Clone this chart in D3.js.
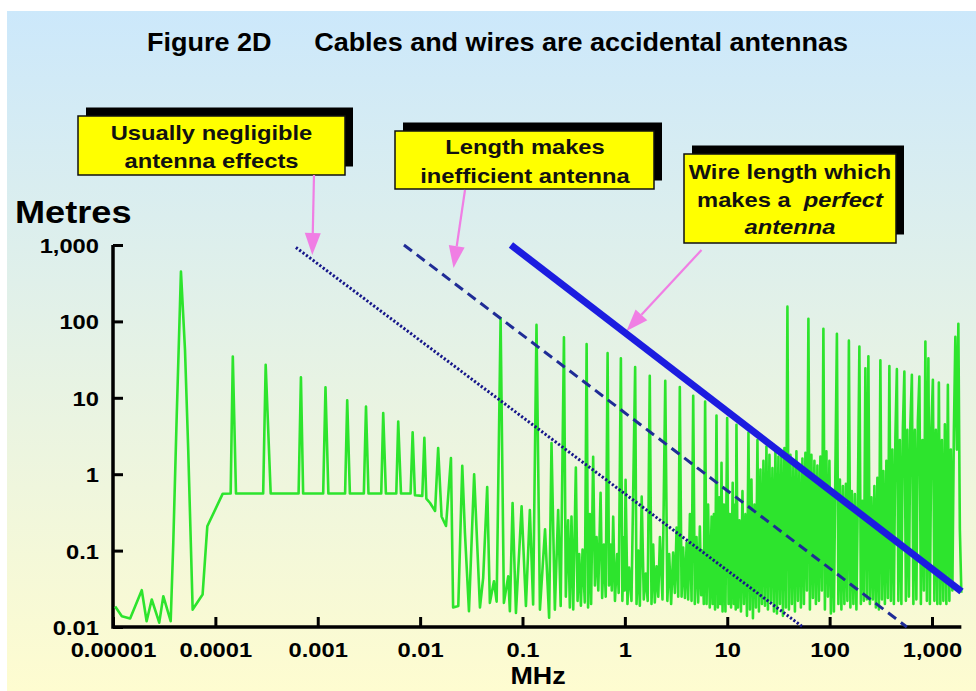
<!DOCTYPE html>
<html lang="en">
<head>
<meta charset="utf-8">
<title>Figure 2D - Cables and wires are accidental antennas</title>
<script src="https://d3js.org/d3.v7.min.js"></script>
<style>
  body { margin: 0; background: #fff; }
  text { font-family: "Liberation Sans", Arial, sans-serif; font-weight: bold; }
</style>
</head>
<body>
<div id="chart"></div>
<script>
// ---- data ----
var xTicks = [1e-5, 1e-4, 1e-3, 0.01, 0.1, 1, 10, 100, 1000];
var xTickLabels = ["0.00001", "0.0001", "0.001", "0.01", "0.1", "1", "10", "100", "1,000"];
var yTicks = [0.01, 0.1, 1, 10, 100, 1000];
var yTickLabels = ["0.01", "0.1", "1", "10", "100", "1,000"];

// measured resonance trace (MHz, metres), low band
var lowFreq = [
  1.05e-5, 1.22e-5, 1.47e-5, 1.91e-5, 2.13e-5, 2.39e-5, 2.83e-5, 3.10e-5, 3.66e-5, 3.88e-5,
  4.19e-5, 4.61e-5, 5.05e-5, 5.43e-5, 6.0e-5, 7.5e-5, 8.34e-5, 1.18e-4,
  1.41e-4, 1.48e-4, 1.59e-4, 2.93e-4, 3.10e-4, 3.47e-4, 6.5e-4, 6.85e-4, 7.2e-4,
  1.13e-3, 1.19e-3, 1.27e-3, 1.85e-3, 1.94e-3, 2.06e-3, 2.82e-3, 2.96e-3, 3.13e-3,
  4.17e-3, 4.36e-3, 4.63e-3, 5.85e-3, 6.11e-3, 6.5e-3, 8.07e-3, 8.45e-3, 8.9e-3,
  0.0105, 0.011, 0.0115, 0.0125, 0.014, 0.015, 0.0162, 0.0179, 0.020, 0.021, 0.0236,
  0.0258, 0.0274, 0.030, 0.0337, 0.0384, 0.0413, 0.0452, 0.048, 0.0526, 0.0559,
  0.0611, 0.0658, 0.0725, 0.0753, 0.080, 0.0863, 0.098, 0.108, 0.118, 0.127,
  0.137, 0.148, 0.166, 0.182, 0.192, 0.207, 0.223, 0.236
];
var lowMetres = [
  0.0185, 0.0138, 0.0129, 0.0303, 0.0119, 0.0229, 0.0114, 0.0253, 0.0119, 0.127,
  5.7, 448, 42.4, 2.09, 0.0169, 0.0266, 0.208, 0.556,
  0.56, 34.7, 0.56, 0.56, 27, 0.56, 0.56, 18.5, 0.56,
  0.56, 13.7, 0.56, 0.56, 9.3, 0.56, 0.56, 7.7, 0.56,
  0.56, 6.3, 0.56, 0.56, 4.9, 0.56, 0.56, 3.54, 0.53,
  0.52, 3.0, 0.48, 0.42, 0.33, 2.2, 0.28, 0.21, 1.63, 0.018, 0.0188,
  1.29, 0.17, 0.0161, 1.0, 0.018, 0.044, 0.68, 0.0207, 0.0397, 0.0215,
  110, 0.0207, 0.046, 0.0161, 0.42, 0.0153, 0.38, 0.0188, 0.34, 0.0197,
  90, 0.0169, 0.19, 0.0132, 2.56, 0.0169, 0.34, 0.0188
];

// mid band, 0.25 - 12 MHz
var midFreq = [
  0.254, 0.265, 0.279, 0.29, 0.301, 0.313, 0.332, 0.345, 0.358, 0.372, 0.386, 0.406,
  0.423, 0.437, 0.455, 0.468, 0.49, 0.51, 0.529, 0.55, 0.579, 0.60, 0.624, 0.65,
  0.678, 0.70, 0.725, 0.745, 0.769, 0.80, 0.841, 0.87,
  0.914, 0.945, 0.977, 0.995, 1.016, 1.06, 1.10, 1.16,
  1.26, 1.30, 1.35, 1.40, 1.46, 1.53, 1.60, 1.67,
  1.75, 1.82, 1.89, 1.96, 2.04, 2.12, 2.20, 2.33,
  2.48, 2.60, 2.71, 2.83, 2.96, 3.08, 3.20, 3.32,
  3.44, 3.58, 3.71, 3.86, 4.01, 4.15, 4.32, 4.48,
  4.65, 4.82, 5.01, 5.20, 5.40, 5.57, 5.73, 5.90,
  6.08, 6.28, 6.50, 6.75, 7.03, 7.20, 7.40, 7.60,
  7.85, 8.10, 8.34, 8.55, 8.79, 9.00, 9.27, 9.60,
  9.98, 10.3, 10.6, 10.9, 11.3, 11.6, 11.9, 12.1
];
var midMetres = [
  62, 0.025, 0.25, 0.018, 0.28, 0.017, 1.22, 0.022, 0.09, 0.019, 0.103, 0.021,
  50.4, 0.018, 0.3, 0.02, 1.69, 0.035, 0.15, 0.03, 0.573, 0.024, 0.12, 0.025,
  38.4, 0.035, 0.12, 0.03, 0.278, 0.022, 0.09, 0.028,
  33, 0.022, 0.15, 0.03, 0.847, 0.02, 0.06, 0.022,
  25.2, 0.02, 0.1, 0.019, 0.508, 0.023, 0.05, 0.022,
  19.4, 0.02, 0.12, 0.021, 0.0624, 0.025, 0.15, 0.023,
  16.7, 0.022, 0.09, 0.02, 0.094, 0.028, 0.2, 0.025,
  13.8, 0.025, 0.11, 0.024, 0.127, 0.023, 0.3, 0.022,
  10.6, 0.02, 0.15, 0.021, 0.206, 0.026, 0.1, 0.02,
  8.95, 0.02, 0.4, 0.018, 0.278, 0.02, 0.3, 0.017,
  5.87, 0.018, 0.5, 0.02, 1.41, 0.016, 0.4, 0.016,
  5.43, 0.02, 0.3, 0.018, 0.774, 0.02, 0.4, 0.017
];

// high band, 12 - 2000 MHz (dense)
var highFreq = [
  12.3, 12.72, 13.16, 13.61, 14.08, 14.56, 15.06, 15.58, 16.11, 16.66, 17.23, 17.82,
  18.43, 19.07, 19.72, 20.4, 21.1, 21.82, 22.57, 23.34, 24.14, 24.97, 25.83, 26.71,
  27.63, 28.58, 29.56, 30.57, 31.62, 32.7, 33.82, 34.98, 36.18, 37.42, 38.7, 40.03,
  41.4, 42.82, 44.29, 45.81, 47.38, 49.0, 50.68, 52.42, 54.22, 56.08, 58.0, 59.99,
  62.05, 64.18, 66.38, 68.66, 71.01, 73.45, 75.97, 78.57, 81.26, 84.05, 86.93, 89.91,
  93.0, 96.19, 99.49, 102.9, 106.4, 110.1, 113.9, 117.8, 121.8, 126.0, 130.3, 134.8,
  139.4, 144.2, 149.1, 154.2, 159.5, 165.0, 170.7, 176.5, 182.6, 188.8, 195.3, 202.0,
  208.9, 216.1, 223.5, 231.2, 239.1, 247.3, 255.8, 264.6, 273.6, 283.0, 292.7, 302.8,
  313.2, 323.9, 335.0, 346.5, 358.4, 370.7, 383.4, 396.6, 410.2, 424.3, 438.8, 453.9,
  469.4, 485.5, 502.2, 519.4, 537.2, 555.7, 574.7, 594.5, 614.9, 636.0, 657.8, 680.4,
  703.7, 727.9, 752.9, 778.7, 805.4, 833.1, 861.7, 891.2, 921.8, 953.4, 986.1, 1020,
  1055, 1091, 1128, 1167, 1207, 1249, 1291, 1336, 1381, 1429, 1478, 1528,
  1581, 1635, 1691, 1749, 1809, 1871, 1935
];
var highMetres = [
  4.44, 0.018, 0.25, 0.016, 0.6, 0.02, 0.3, 0.014, 3.5, 0.017, 0.85, 0.013,
  0.4, 0.018, 2.8, 0.016, 1.15, 0.02, 1.5, 0.019, 2.3, 0.017, 1.8, 0.022,
  1.2, 0.016, 2.1, 0.015, 1.7, 0.02, 1.8, 0.014, 2.2, 0.018, 156, 0.017,
  1.8, 0.02, 1.4, 0.016, 2.0, 0.022, 1.2, 0.018, 1.6, 0.02, 1.9, 0.03,
  108, 0.017, 1.8, 0.024, 1.5, 0.02, 1.3, 0.022, 1.7, 0.03, 80, 0.017,
  2.0, 0.025, 1.5, 0.015, 0.6, 0.016, 1.2, 69, 0.02, 0.85, 0.017, 0.7,
  0.02, 0.75, 0.022, 56, 0.018, 0.6, 0.02, 0.55, 0.017, 0.5, 47, 0.02,
  0.45, 0.022, 24.4, 0.023, 35, 0.02, 0.5, 0.023, 0.7, 0.018, 0.9, 0.017,
  31, 0.023, 1.1, 0.02, 1.5, 0.024, 26, 0.022, 2.1, 0.02, 3.0, 23.7,
  0.022, 2.8, 0.02, 4.0, 22, 0.022, 3.8, 0.025, 4.5, 20, 0.02, 3.8,
  0.023, 5.0, 19, 0.02, 2.8, 0.03, 54.5, 0.022, 33, 0.02, 4.0, 17.2,
  0.022, 3.8, 0.02, 15.8, 0.02, 2.8, 0.022, 4.5, 0.02, 14.8, 0.022, 2.1,
  0.03, 3.5, 63, 2.1, 93, 0.19, 0.028
];

// reference wire-length lines (end points)
var negligibleFreq = [6.12e-4, 54.7], negligibleMetres = [928, 0.01];
var inefficientFreq = [0.00695, 568], inefficientMetres = [1000, 0.01];
var perfectFreq = [0.0771, 1941], perfectMetres = [1000, 0.0291];

// ---- layout ----
var W = 976, H = 691;
var SX = 1.13; // the lettering in the slide is horizontally wide

var svg = d3.select("#chart").append("svg")
    .attr("width", W)
    .attr("height", H);

var defs = svg.append("defs");
var grad = defs.append("linearGradient")
    .attr("id", "bg").attr("x1", 0).attr("y1", 0).attr("x2", 0).attr("y2", 1);
grad.append("stop").attr("offset", "0%").attr("stop-color", "#cce8fb");
grad.append("stop").attr("offset", "100%").attr("stop-color", "#fefcd0");

svg.append("rect").attr("width", W).attr("height", H).attr("fill", "#fff");
svg.append("rect")
    .attr("x", 7).attr("y", 11)
    .attr("width", W - 7).attr("height", H - 11)
    .attr("fill", "url(#bg)");

// scales
var x = d3.scaleLog().domain([1e-5, 1000]).range([113, 932]);
var y = d3.scaleLog().domain([0.01, 1000]).range([627, 245]);

function label(sel, px, py, str, size, anchor, sx) {
  return sel.append("text")
    .attr("transform", "translate(" + px + "," + py + ") scale(" + (sx || SX) + ",1)")
    .attr("text-anchor", anchor || "middle")
    .style("font-size", size + "px")
    .text(str);
}

// title
label(svg, 147, 51, "Figure 2D", 25, "start", 1.08);
label(svg, 848, 51, "Cables and wires are accidental antennas", 25, "end", 1.08);

// annotation boxes
var boxes = [
  {x0: 78, y0: 116, x1: 345, y1: 175, cx: 211.5,
   lines: [{y: 139.5, parts: [["Usually negligible", false]]},
           {y: 168, parts: [["antenna effects", false]]}]},
  {x0: 395, y0: 131, x1: 654, y1: 189, cx: 525,
   lines: [{y: 154, parts: [["Length makes", false]]},
           {y: 183, parts: [["inefficient antenna", false]]}]},
  {x0: 684, y0: 154, x1: 896, y1: 243, cx: 790,
   lines: [{y: 178.5, parts: [["Wire length which", false]]},
           {y: 207, parts: [["makes a  ", false], ["perfect", true]]},
           {y: 233.5, parts: [["antenna", true]]}]}
];

boxes.forEach(function (b) {
  svg.append("rect")
    .attr("x", b.x0 + 8).attr("y", b.y0 - 8.5)
    .attr("width", b.x1 - b.x0).attr("height", b.y1 - b.y0)
    .attr("fill", "#000");
  svg.append("rect")
    .attr("x", b.x0).attr("y", b.y0)
    .attr("width", b.x1 - b.x0).attr("height", b.y1 - b.y0)
    .attr("fill", "#ffff00")
    .attr("stroke", "#111").attr("stroke-width", 1.5);
  b.lines.forEach(function (ln) {
    var t = svg.append("text")
      .attr("transform", "translate(" + b.cx + "," + ln.y + ") scale(" + SX + ",1)")
      .attr("text-anchor", "middle")
      .style("font-size", "21px")
      .attr("fill", "#111");
    ln.parts.forEach(function (p) {
      t.append("tspan")
        .style("font-style", p[1] ? "italic" : "normal")
        .attr("xml:space", "preserve")
        .text(p[0]);
    });
  });
});

// pink pointer arrows
var pink = "#f07ee4";
var arrows = [
  {from: [314, 175], to: [312.3, 255]},
  {from: [465, 190], to: [453.5, 268]},
  {from: [701.5, 250], to: [626.5, 331]}
];
arrows.forEach(function (a) {
  var dx = a.to[0] - a.from[0], dy = a.to[1] - a.from[1];
  var len = Math.sqrt(dx * dx + dy * dy), ux = dx / len, uy = dy / len;
  var hl = 22, hw = 8;
  var bx = a.to[0] - ux * hl, by = a.to[1] - uy * hl;
  svg.append("line")
    .attr("x1", a.from[0]).attr("y1", a.from[1])
    .attr("x2", bx).attr("y2", by)
    .attr("stroke", pink).attr("stroke-width", 2.2);
  svg.append("path")
    .attr("d", "M" + a.to[0] + "," + a.to[1] +
               "L" + (bx - uy * hw) + "," + (by + ux * hw) +
               "L" + (bx + uy * hw) + "," + (by - ux * hw) + "Z")
    .attr("fill", pink);
});

// axes
var xAxis = svg.append("g")
    .attr("transform", "translate(0," + y(0.01) + ")")
    .call(d3.axisBottom(x).tickValues(xTicks)
      .tickFormat(function (d, i) { return xTickLabels[i]; })
      .tickSize(-10).tickSizeOuter(0));
xAxis.select(".domain").remove();
xAxis.selectAll(".tick line").attr("stroke", "#000").attr("stroke-width", 3);
xAxis.selectAll(".tick text")
    .attr("y", 30).attr("dy", null)
    .attr("transform", "scale(" + SX + ",1)")
    .attr("fill", "#000")
    .style("font-size", "21px");

var yAxis = svg.append("g")
    .attr("transform", "translate(" + x(1e-5) + ",0)")
    .call(d3.axisLeft(y).tickValues(yTicks)
      .tickFormat(function (d, i) { return yTickLabels[i]; })
      .tickSize(-10).tickSizeOuter(0));
yAxis.select(".domain").remove();
yAxis.selectAll(".tick line").attr("stroke", "#000").attr("stroke-width", 3);
yAxis.selectAll(".tick text")
    .attr("x", -14 / SX).attr("dy", "0.36em")
    .attr("transform", "scale(" + SX + ",1)")
    .attr("fill", "#000")
    .style("font-size", "21px");

var traceFreq = lowFreq.concat(midFreq, highFreq);
var traceMetres = lowMetres.concat(midMetres, highMetres);

svg.append("path")
    .attr("d", "M" + x(1e-5) + "," + y(1000) + "V" + y(0.01) + "H" + x(d3.max(traceFreq)))
    .attr("fill", "none").attr("stroke", "#000").attr("stroke-width", 3.5);

label(svg, 15, 223, "Metres", 32, "start");
label(svg, 538, 684, "MHz", 24, "middle", 1.12);

// green trace
var trace = traceFreq.map(function (f, i) { return [f, traceMetres[i]]; });
var line = d3.line().x(function (d) { return x(d[0]); }).y(function (d) { return y(d[1]); });

svg.append("path")
    .datum(trace)
    .attr("d", line)
    .attr("fill", "none")
    .attr("stroke", "#2de42d")
    .attr("stroke-width", 2.6)
    .attr("stroke-linejoin", "round");

// wire length lines
function pairs(fs, ms) { return fs.map(function (f, i) { return [f, ms[i]]; }); }

svg.append("path")
    .datum(pairs(negligibleFreq, negligibleMetres))
    .attr("d", line)
    .attr("stroke", "#16168a").attr("stroke-width", 3)
    .attr("stroke-dasharray", "2.2,2").attr("fill", "none");

svg.append("path")
    .datum(pairs(inefficientFreq, inefficientMetres))
    .attr("d", line)
    .attr("stroke", "#1f2c96").attr("stroke-width", 3)
    .attr("stroke-dasharray", "10,6").attr("fill", "none");

svg.append("path")
    .datum(pairs(perfectFreq, perfectMetres))
    .attr("d", line)
    .attr("stroke", "#1c1ce0").attr("stroke-width", 7)
    .attr("fill", "none");
</script>
</body>
</html>
